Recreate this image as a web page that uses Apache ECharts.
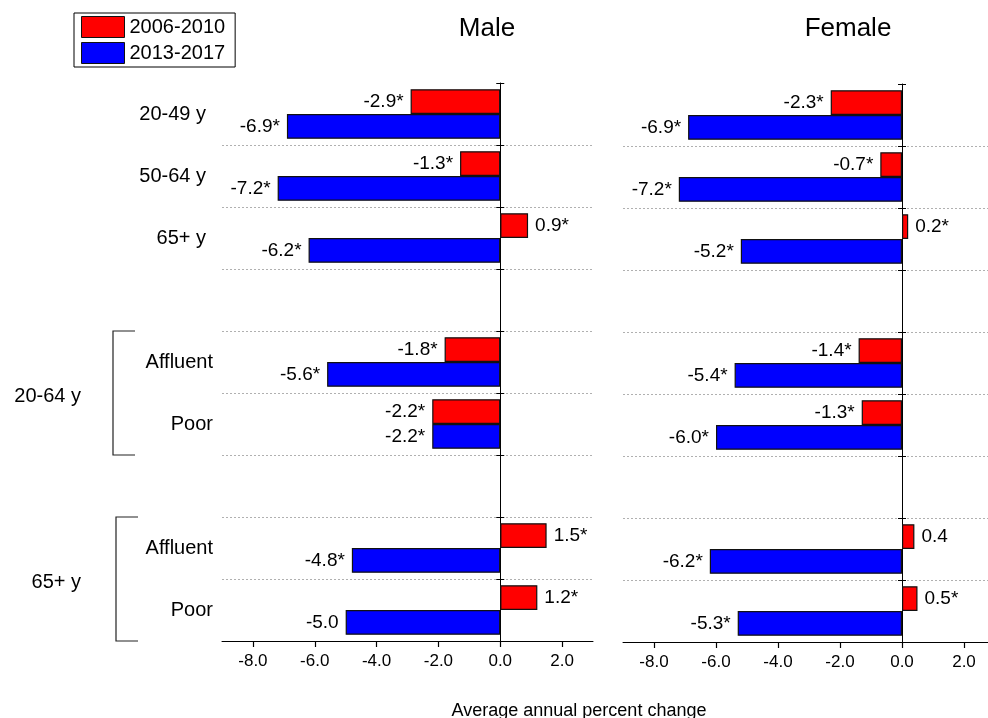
<!DOCTYPE html>
<html><head><meta charset="utf-8">
<script src="https://cdn.jsdelivr.net/npm/echarts@6/dist/echarts.min.js"></script>
<style>html,body{margin:0;padding:0;background:#fff}#c{width:988px;height:718px}</style>
</head><body><div id="c"></div>
<script>
const categories = ['20-49 y','50-64 y','65+ y','','Affluent','Poor','','Affluent','Poor'];
const seriesNames = ['2006-2010','2013-2017'];
const maleEarly = [-2.9,-1.3,0.9,null,-1.8,-2.2,null,1.5,1.2];
const maleLate = [-6.9,-7.2,-6.2,null,-5.6,-2.2,null,-4.8,-5.0];
const femaleEarly = [-2.3,-0.7,0.2,null,-1.4,-1.3,null,0.4,0.5];
const femaleLate = [-6.9,-7.2,-5.2,null,-5.4,-6.0,null,-6.2,-5.3];
const maleEarlySig = [1,1,1,0,1,1,0,1,1];
const maleLateSig = [1,1,1,0,1,1,0,1,0];
const femaleEarlySig = [1,1,1,0,1,1,0,0,1];
const femaleLateSig = [1,1,1,0,1,1,0,1,1];
const xTicks = [-8,-6,-4,-2,0,2];
const panelTitles = ['Male','Female'];
const groupLabels = ['20-64 y','65+ y'];
const groupSpans = [[4,5],[7,8]];
const xAxisName = 'Average annual percent change';

const FONT = '"Liberation Sans", Arial, sans-serif';
const chart = echarts.init(document.getElementById('c'), null, {renderer:'canvas'});

function xAx(gi){
  return {
    type:'value', gridIndex:gi, min:-9, max:3,
    axisLine:{show:true, onZero:false, lineStyle:{color:'#000', width:1}},
    axisTick:{show:true, customValues:xTicks, length:6, inside:false, lineStyle:{color:'#000', width:1.2}},
    axisLabel:{show:true, customValues:xTicks, formatter:v=>Number(v).toFixed(1), fontSize:17, color:'#000', fontFamily:FONT, margin:12},
    splitLine:{show:false}
  };
}
function yLine(gi){
  return {
    type:'category', gridIndex:gi, data:categories, inverse:true, position:'left',
    axisLine:{show:true, onZero:true, lineStyle:{color:'#000', width:1}},
    axisTick:{show:true, interval:0, length:4, lineStyle:{color:'#000'}},
    axisLabel:{show:false},
    splitLine:{show:true, interval:0, showMinLine:false, showMaxLine:false, lineStyle:{color:'#b0b0b0', type:[2,2], width:1}}
  };
}
function yInner(gi){
  return {
    type:'category', gridIndex:gi, data:categories, inverse:true, position:'right', offset:0,
    axisLine:{show:false, onZero:false},
    axisTick:{show:true, inside:false, interval:0, length:4, lineStyle:{color:'#000'}},
    axisLabel:{show:false}, splitLine:{show:false}
  };
}
function makeSeries(name, vals, sig, xi, yi, color){
  return {
    type:'bar', name:name, xAxisIndex:xi, yAxisIndex:yi,
    barGap:'0%', barCategoryGap:'20%',
    itemStyle:{color:color, borderColor:'#111', borderWidth:1.2},
    label:{show:true, fontSize:19, color:'#000', fontFamily:FONT, distance:7,
      formatter:p=>Number(p.value).toFixed(1)+(sig[p.dataIndex]?'*':'')},
    data: vals.map(v => v==null ? '-' : {value:v, label:{position: v<0?'left':'right'}}),
    animation:false
  };
}

chart.setOption({
  animation:false,
  backgroundColor:'#fff',
  textStyle:{fontFamily:FONT},
  grid:[
    {left:222, top:83, width:371, height:558, outerBoundsMode:'none', containLabel:false},
    {left:623, top:84, width:372, height:558, outerBoundsMode:'none', containLabel:false}
  ],
  xAxis:[xAx(0), xAx(1)],
  yAxis:[
    {type:'category', gridIndex:0, data:categories, inverse:true, position:'left',
     axisLine:{show:false, onZero:false}, axisTick:{show:false}, splitLine:{show:false},
     axisLabel:{show:true, interval:0, margin:9, fontSize:20, color:'#000', fontFamily:FONT,
       formatter:(v,i)=> i<3 ? '{t|'+v+'}' : '{b|'+v+'}',
       rich:{t:{fontSize:20, color:'#000', fontFamily:FONT, padding:[0,7,0,0]}, b:{fontSize:20, color:'#000', fontFamily:FONT}}}},
    yLine(0), yInner(0), yLine(1), yInner(1)
  ],
  legend:{
    show:true, left:74, top:13, orient:'vertical', data:seriesNames,
    itemWidth:43, itemHeight:21, itemGap:4, padding:[3,10,3,7],
    borderColor:'#000', borderWidth:1, icon:'rect',
    itemStyle:{borderColor:'#111', borderWidth:1},
    textStyle:{fontSize:20, color:'#000', fontFamily:FONT}
  },
  series:[
    makeSeries(seriesNames[0], maleEarly, maleEarlySig, 0, 1, '#ff0000'),
    makeSeries(seriesNames[1], maleLate, maleLateSig, 0, 1, '#0000ff'),
    makeSeries(seriesNames[0], femaleEarly, femaleEarlySig, 1, 3, '#ff0000'),
    makeSeries(seriesNames[1], femaleLate, femaleLateSig, 1, 3, '#0000ff')
  ]
});

// right-hand half of the crossing ticks: move the tick-only axes onto x = 0
const off0 = chart.convertToPixel({xAxisIndex:0}, 0) - chart.convertToPixel({xAxisIndex:0}, 3);
const off1 = chart.convertToPixel({xAxisIndex:1}, 0) - chart.convertToPixel({xAxisIndex:1}, 3);
chart.setOption({yAxis:[{}, {}, {offset:off0}, {}, {offset:off1}]});

// annotations positioned from the axis scales
const yPix = i => chart.convertToPixel({yAxisIndex:1}, i);
const half = (yPix(1) - yPix(0)) / 2;
const bracketX = [113, 116];
const g = [];
groupSpans.forEach((s, k) => {
  const top = yPix(s[0]) - half, bot = yPix(s[1]) + half;
  const bx = bracketX[k];
  g.push({type:'polyline', shape:{points:[[bx+22,top],[bx,top],[bx,bot],[bx+22,bot]]},
    style:{stroke:'#222', lineWidth:1.2, fill:null}, silent:true});
  g.push({type:'text', x:81, y:(top+bot)/2 + 3,
    style:{text:groupLabels[k], fontSize:20, fill:'#000', fontFamily:FONT, align:'right', verticalAlign:'middle'}});
});
g.push({type:'text', x:487, y:29, style:{text:panelTitles[0], fontSize:26, fill:'#000', fontFamily:FONT, align:'center', verticalAlign:'middle'}});
g.push({type:'text', x:848, y:29, style:{text:panelTitles[1], fontSize:26, fill:'#000', fontFamily:FONT, align:'center', verticalAlign:'middle'}});
g.push({type:'text', x:579, y:711, style:{text:xAxisName, fontSize:18, fill:'#000', fontFamily:FONT, align:'center', verticalAlign:'middle'}});
chart.setOption({graphic:g});
</script>
</body></html>
